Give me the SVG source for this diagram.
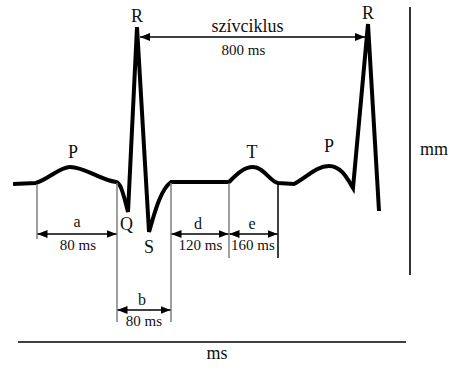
<svg xmlns="http://www.w3.org/2000/svg" width="474" height="388" viewBox="0 0 474 388">
<style>
text{font-family:"Liberation Serif","Times New Roman",Tinos,"Nimbus Roman","DejaVu Serif",serif;fill:#111;text-anchor:middle}
.lbl{font-size:18px}
.dim{font-size:15px}
.let{font-size:16px}
.wave{fill:none;stroke:#000;stroke-width:4;stroke-linejoin:miter;stroke-linecap:butt}
.ext{stroke:#808080;stroke-width:1.5}
.extb{stroke:#000;stroke-width:1.5}
.arr{stroke:#000;stroke-width:1.3;marker-start:url(#ah);marker-end:url(#ah)}
.axis{stroke:#000;stroke-width:1.6}
</style>
<defs>
<marker id="ah" viewBox="0 0 10 8" refX="10" refY="4" markerWidth="10" markerHeight="8" markerUnits="userSpaceOnUse" orient="auto-start-reverse">
<path d="M0,0 L10,4 L0,8 Z" fill="#000"/>
</marker>
</defs>
<rect width="474" height="388" fill="#fff"/>
<g id="ecg-wave">
<path class="wave" d="M13,184 L36,183 C50,178 60,167 70,167 C85,167 100,180 116,182 C120,183 122,188 128,212 L137,27 L149,232 C154,215 160,190 171,182 L229,182 C235,176 243,167 253,167 C264,167 270,182 278,183 L294,184 C306,178 316,166 329,166 C341,166 347,178 353,188 L368,24 L379,211"/>
</g>
<g id="connectors">
<line class="ext" x1="37" y1="184" x2="37" y2="239"/>
<line class="ext" x1="117" y1="183" x2="117" y2="322"/>
<line class="ext" x1="171" y1="183" x2="171" y2="322"/>
<line class="ext" x1="229" y1="183" x2="229" y2="258"/>
<line class="extb" x1="278" y1="184" x2="278" y2="258"/>
<line class="arr" x1="37.5" y1="234" x2="116.5" y2="234"/>
<line class="arr" x1="117.5" y1="310" x2="170.5" y2="310"/>
<line class="arr" x1="171.5" y1="234" x2="228.5" y2="234"/>
<line class="arr" x1="229.5" y1="234" x2="277.5" y2="234"/>
<line class="arr" x1="140" y1="37" x2="365" y2="37"/>
<line class="axis" x1="410" y1="7" x2="410" y2="275"/>
<line class="axis" x1="18" y1="342" x2="406" y2="342"/>
</g>
<g id="labels" font-family="Liberation Serif, serif">
<text class="lbl" x="137" y="22">R</text>
<text class="lbl" x="368" y="19">R</text>
<text class="lbl" x="73" y="158">P</text>
<text class="lbl" x="252" y="158">T</text>
<text class="lbl" x="329" y="152">P</text>
<text class="lbl" x="126.5" y="230">Q</text>
<text class="lbl" x="149" y="253">S</text>
<text style="font-size:18px" x="247.5" y="32">szívciklus</text>
<text class="dim" x="243.5" y="55">800 ms</text>
<text class="let" x="77" y="227">a</text>
<text class="dim" x="78" y="250">80 ms</text>
<text class="let" x="142" y="305">b</text>
<text class="dim" x="144" y="326">80 ms</text>
<text class="let" x="198" y="229">d</text>
<text class="dim" x="200.5" y="250">120 ms</text>
<text class="let" x="252" y="229">e</text>
<text class="dim" x="253" y="250">160 ms</text>
<text class="lbl" x="434" y="155">mm</text>
<text class="lbl" x="217" y="359">ms</text>
</g>
</svg>
